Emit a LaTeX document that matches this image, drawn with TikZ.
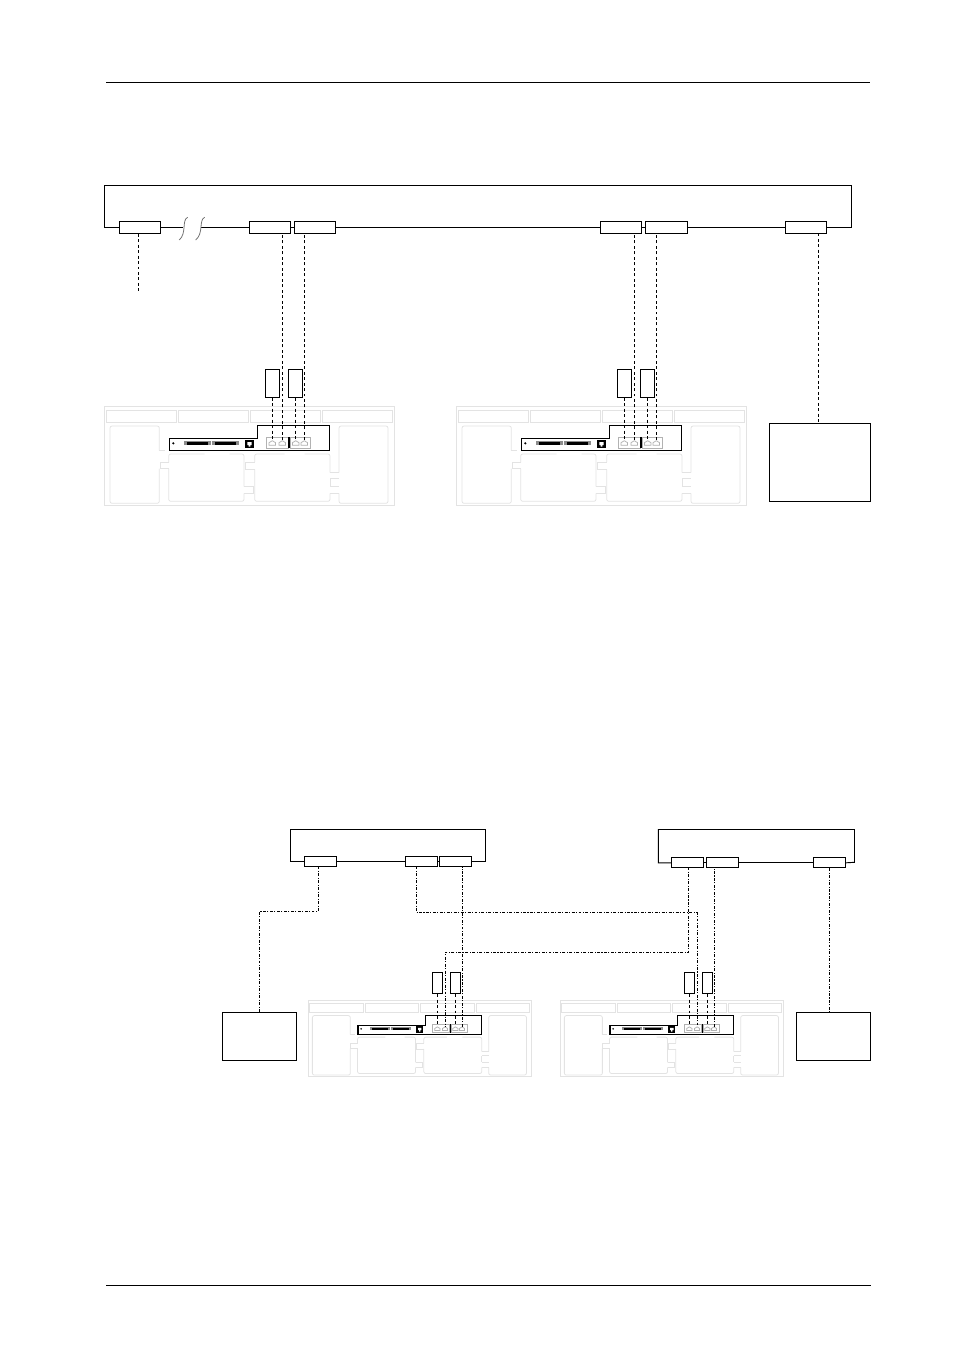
\documentclass[tikz,border=0pt]{standalone}
\usepackage{tikz}

\tikzset{
    busbox/.style={rectangle,draw,fill=white,line width=0.7pt,inner sep=0pt,minimum width=31pt,minimum height=9pt},
    busboxs/.style={busbox,minimum width=24pt,minimum height=7.5pt},
    tapbox/.style={rectangle,draw,fill=white,line width=0.7pt,inner sep=0pt,minimum width=10.6pt,minimum height=21pt},
    tapboxs/.style={tapbox,minimum width=8pt,minimum height=16pt},
    hostbox/.style={rectangle,draw,fill=white,line width=0.7pt,inner sep=0pt},
    bus/.style={line width=0.7pt},
    wire/.style={line width=0.7pt,dash pattern=on 2.2pt off 1.9pt},
    wiredd/.style={line width=0.7pt,dash pattern=on 2.2pt off 1.1pt on 0.8pt off 1.1pt},
    ghost/.style={draw=black!11,line width=0.6pt},
    port/.style={draw=black!30,line width=0.55pt},
    rearpanel/.pic={
        \draw[ghost] (0,0) rectangle (290,98.6);
        \foreach \xa/\xb in {1.3/71.3,74/143.3,145.3/215.7,218/287.3}
            \draw[ghost] (\xa,4) rectangle (\xb,15.6);
        \draw[ghost,rounded corners=1.5pt] (54.6,44) -- (54.6,19.3) -- (5.3,19.3) -- (5.3,96.6) -- (54.6,96.6) -- (54.6,62);
        \draw[ghost,rounded corners=1.5pt] (234.3,66) -- (234.3,19.3) -- (283.3,19.3) -- (283.3,96.6) -- (234.3,96.6) -- (234.3,86.6);
        \draw[ghost,rounded corners=1.5pt] (64,56) -- (64,47.3) -- (100,47.3);
        \draw[ghost,rounded corners=1.5pt] (64,62) -- (64,94.6) -- (139.3,94.6) -- (139.3,86.6);
        \draw[ghost,rounded corners=1.5pt] (139.3,80) -- (139.3,47.3) -- (125,47.3);
        \draw[ghost,rounded corners=1.5pt] (150,55.3) -- (150,47.3) -- (180,47.3);
        \draw[ghost,rounded corners=1.5pt] (150,62.6) -- (150,94.6) -- (225.3,94.6) -- (225.3,86.6);
        \draw[ghost,rounded corners=1.5pt] (225.3,66) -- (225.3,47.3) -- (200,47.3);
        \draw[ghost] (64,56) -- (55.3,56) -- (55.3,62) -- (64,62);
        \draw[ghost] (54.6,44) -- (60,44);
        \draw[ghost] (150,55.3) -- (141,55.3) -- (141,62.6) -- (150,62.6);
        \draw[ghost] (139.3,80) -- (148.6,80) -- (148.6,86.6) -- (139.3,86.6);
        \draw[ghost] (225.3,66) -- (234.3,66);
        \draw[ghost] (225.3,71.6) -- (234.3,71.6);
        \draw[ghost] (225.3,71.6) -- (225.3,80);
        \draw[ghost] (225.3,80) -- (234.3,80);
        \draw[ghost] (225.3,86.6) -- (234.3,86.6);
        \fill[white] (64.6,32) -- (152.6,32) -- (152.6,19) -- (225,19) -- (225,43.6) -- (64.6,43.6) -- cycle;
        \draw[line width=0.85pt] (64.6,32) -- (152.6,32) -- (152.6,19) -- (225,19) -- (225,43.6) -- (64.6,43.6) -- cycle;
        \fill (68.6,36.6) circle (0.9pt);
        \foreach \xa/\xb in {82.6/103.6,110.3/131} {
            \fill[black!45] (\xa-3,34.2) rectangle (\xb+3,38.4);
            \fill (\xa,34.8) rectangle (\xb,37.8);
        }
        \fill (140.3,33.3) rectangle (149.3,41.6);
        \fill[white] (142.6,35.3) -- (147,35.3) -- (147,38.3) -- (145.6,38.3) -- (145.6,40) -- (144,40) -- (144,38.3) -- (142.6,38.3) -- cycle;
        \draw[port] (161.7,30.6) rectangle (183.7,41.3);
        \draw[port] (185.3,30.6) rectangle (206,41.3);
        \foreach \px in {167.6,177.6,191,199.6}
            \draw[port] (\px-3.3,38.6) -- (\px-3.3,36) -- (\px,34) -- (\px+3.3,36) -- (\px+3.3,38.6) -- cycle;
        \draw[line width=1.1pt] (184.5,30.6) -- (184.5,41.6);
        \coordinate (-p1) at (167.6,33.5);
        \coordinate (-p2) at (177.6,33.5);
        \coordinate (-p3) at (191,33.5);
        \coordinate (-p4) at (199.6,33.5);
    }
}

\begin{document}
\begin{tikzpicture}[x=0.75pt,y=-0.75pt]
\useasboundingbox (0,0) rectangle (954,1369);

\coordinate (heada) at (106,82.7);
\coordinate (headb) at (870,82.7);
\coordinate (foota) at (106,1285.5);
\coordinate (footb) at (871,1285.5);
\draw[line width=0.6pt] (heada) -- (headb);
\draw[line width=0.6pt] (foota) -- (footb);

\pic (pa) at (104.7,406.7) {rearpanel};
\pic (pb) at (456.7,406.7) {rearpanel};
\pic[xscale=0.77,yscale=0.77] (pc) at (308.3,1000.7) {rearpanel};
\pic[xscale=0.77,yscale=0.77] (pd) at (560.3,1000.7) {rearpanel};

\coordinate (cna) at (104.7,185.3);
\coordinate (cnb) at (851.3,227.3);
\node[busbox] (b1) at (140,227.3) {};
\node[busbox] (b2) at (270,227.3) {};
\node[busbox] (b3) at (315,227.3) {};
\node[busbox] (b4) at (620.7,227.3) {};
\node[busbox] (b5) at (666.3,227.3) {};
\node[busbox] (b6) at (805.7,227.3) {};
\coordinate (bra) at (183.3,227.3);
\coordinate (brb) at (201,227.3);
\coordinate (stub) at (138.3,291);
\coordinate (tapa) at (818.5,233.3);

\draw[bus] (b1.west) -| (cna) -| (cnb) -- (b6.east);
\draw[bus] (b1.east) -- (bra);
\draw[bus] (brb) -- (b2.west);
\draw[bus] (b2.east) -- (b3.west);
\draw[bus] (b3.east) -- (b4.west);
\draw[bus] (b4.east) -- (b5.west);
\draw[bus] (b5.east) -- (b6.west);
\draw[draw=black!55,line width=0.6pt] (187.7,217.3) .. controls (181.5,220) and (187,233) .. (179.3,240);
\draw[draw=black!55,line width=0.6pt] (204.7,217.3) .. controls (198.5,220) and (204,233) .. (195.7,240);

\node[tapbox] (ta1) at (pa-p1 |- 0,383.3) {};
\node[tapbox] (ta2) at (pa-p3 |- 0,383.3) {};
\node[tapbox] (tb1) at (pb-p1 |- 0,383.3) {};
\node[tapbox] (tb2) at (pb-p3 |- 0,383.3) {};
\node[hostbox,minimum width=76pt,minimum height=58.5pt] (ha) at (819.8,462) {};

\draw[wire] (b1.south -| stub) -- (stub);
\draw[wire] (pa-p2) -- (pa-p2 |- b2.south);
\draw[wire] (pa-p4) -- (pa-p4 |- b3.south);
\draw[wire] (pb-p2) -- (pb-p2 |- b4.south);
\draw[wire] (pb-p4) -- (pb-p4 |- b5.south);
\draw[wire] (ta1.south) -- (pa-p1);
\draw[wire] (ta2.south) -- (pa-p3);
\draw[wire] (tb1.south) -- (pb-p1);
\draw[wire] (tb2.south) -- (pb-p3);
\draw[wire] (tapa) -- (tapa |- ha.north);

\coordinate (cnc) at (290.3,829);
\coordinate (cnd) at (485.7,861.5);
\node[busboxs] (c1) at (320,861.5) {};
\node[busboxs] (c2) at (421,861.5) {};
\node[busboxs] (c3) at (455.3,861.5) {};
\draw[bus] (c1.west) -| (cnc) -| (cnd) -- (c3.east);
\draw[bus] (c1.east) -- (c2.west);
\draw[bus] (c2.east) -- (c3.west);

\coordinate (cne) at (658.3,829.5);
\coordinate (cnf) at (854.5,862.3);
\node[busboxs] (d1) at (687.5,862.8) {};
\node[busboxs] (d2) at (722.7,862.8) {};
\node[busboxs] (d3) at (829.7,862.8) {};
\draw[bus] (d1.west) -| (cne) -| (cnf) -- (d3.east);
\draw[bus] (d1.east) -- (d2.west);
\draw[bus] (d2.east) -- (d3.west);

\node[tapboxs] (tc1) at (pc-p1 |- 0,983) {};
\node[tapboxs] (tc2) at (pc-p3 |- 0,983) {};
\node[tapboxs] (td1) at (pd-p1 |- 0,983) {};
\node[tapboxs] (td2) at (pd-p3 |- 0,983) {};
\node[hostbox,minimum width=56pt,minimum height=36.6pt] (hb) at (259.5,1036.5) {};
\node[hostbox,minimum width=56pt,minimum height=36.6pt] (hc) at (833.5,1036.5) {};

\coordinate (lega) at (318,866.5);
\coordinate (legb) at (416.3,866.5);
\coordinate (legc) at (688.3,867.3);
\coordinate (turna) at (688.3,952.3);
\coordinate (turnb) at (416.3,912.3);

\draw[wiredd] (lega) |- (259.5,911.5) -- (hb.north);
\draw[wiredd] (legb) -- (turnb) -| (pd-p2);
\draw[wiredd] (legc) -- (turna) -| (pc-p2);
\draw[wiredd] (pc-p4) -- (pc-p4 |- c3.south);
\draw[wiredd] (pd-p4) -- (pd-p4 |- d2.south);
\draw[wiredd] (d3.south) -- (d3.south |- hc.north);
\draw[wire] (tc1.south) -- (pc-p1);
\draw[wire] (tc2.south) -- (pc-p3);
\draw[wire] (td1.south) -- (pd-p1);
\draw[wire] (td2.south) -- (pd-p3);
\end{tikzpicture}
\end{document}
